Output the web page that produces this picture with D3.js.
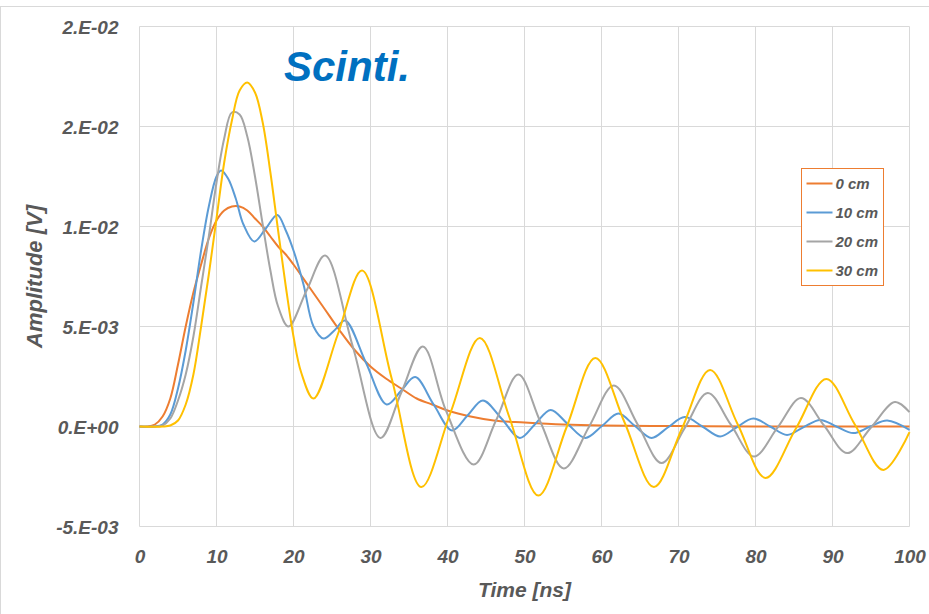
<!DOCTYPE html>
<html>
<head>
<meta charset="utf-8">
<script src="https://cdn.jsdelivr.net/npm/d3@7"></script>
<style>
  html, body { margin: 0; padding: 0; background: #fff; }
  svg { display: block; }
  text { font-family: "Liberation Sans", Arial, sans-serif; font-weight: bold; font-style: italic; }
</style>
</head>
<body>
<svg id="chart"></svg>
<script>
// [time ns, amplitude V]
var s0cm = [[0,0],[1,0],[2,0.0001],[3,0.0005],[4,0.0014],[5,0.0031],[6,0.0050],[7,0.0067],[8,0.0081],[9,0.0094],
  [10,0.0103],[11,0.0108],[12,0.0110],[13,0.0110],[14,0.0108],[15,0.0104],[16,0.0100],[17,0.0095],[18,0.0090],
  [19,0.0086],[20,0.0081],[22,0.0070],[24,0.0059],[26,0.0048],[28,0.0038],[30,0.0030],[32,0.0024],[34,0.0019],
  [36,0.0014],[38,0.0011],[40,0.0008],[43,0.0005],[46,0.0003],[50,0.0002],[55,0.0001],[60,0.00005],[70,0.00002],
  [80,0],[100,0]];
var s10cm = [[0,0],[2,0],[3,0.0001],[4,0.0006],[5,0.0019],[6,0.0038],[7,0.0062],[8,0.0088],[9,0.0110],[10,0.0125],
  [10.6,0.0128],[11.5,0.0124],[12.5,0.0114],[13.5,0.0101],[14.9,0.00925],[16.4,0.0099],[17.9,0.01058],[19,0.0098],
  [20,0.0088],[21.3,0.0071],[22.6,0.0050],[23.9,0.0044],[25.3,0.0048],[26.7,0.0053],[29.4,0.0032],[32.1,0.0011],
  [34,0.0018],[35.8,0.00247],[38.2,0.0011],[40.6,-0.0002],[42.6,0.00055],[44.6,0.0013],[47,0.0004],[49.4,-0.00057],
  [51.4,0.00013],[53.4,0.00083],[55.6,0.00013],[57.9,-0.00057],[60.1,0.00004],[62.2,0.00065],[64.3,0.00004],
  [66.5,-0.00057],[68.6,-0.00005],[70.8,0.00047],[73.1,0],[75.4,-0.0005],[77.5,-0.00005],[79.7,0.0004],[81.9,0],
  [84.1,-0.00042],[86.2,-0.00004],[88.4,0.00033],[90.5,0],[92.7,-0.00033],[94.9,0],[97.1,0.0003],[100,-0.00017]];
var s20cm = [[0,0],[2,0],[3,0.00005],[4,0.0004],[5,0.0013],[6,0.0026],[7,0.0045],[8,0.0070],[9,0.0095],[10,0.0122],
  [11,0.0144],[12,0.0157],[13,0.0156],[14,0.0145],[15,0.0125],[16,0.0101],[17,0.0078],[18,0.0060],[19.35,0.0050],
  [21.7,0.0068],[24.1,0.00855],[27.7,0.0040],[31.3,-0.00057],[34,0.0017],[36.8,0.0040],[39.8,0.0008],[43.4,-0.0019],
  [46.3,0.0003],[49.2,0.0026],[52.1,0.0002],[55.1,-0.0021],[58.4,0],[61.6,0.00205],[64.7,0.0001],[67.8,-0.00183],
  [70.8,-0.00008],[73.8,0.00168],[76.8,0.00009],[79.8,-0.0015],[82.9,-0.00003],[85.9,0.00143],[88.9,0.00005],
  [91.9,-0.00133],[95,-0.00005],[98.1,0.00122],[100,0.00072]];
var s30cm = [[0,0],[3,0],[4,0.00005],[5,0.0003],[6,0.0011],[7,0.0026],[8,0.0050],[9,0.0076],[10,0.0104],[11,0.0132],
  [12,0.0153],[13,0.0168],[14,0.0172],[15,0.0167],[16,0.0152],[17,0.0127],[18,0.0098],[19,0.0070],[20,0.0045],
  [21,0.0027],[22.6,0.0014],[25.75,0.0046],[28.9,0.0078],[32.75,0.0024],[36.6,-0.00303],[40.4,0.0007],[44.2,0.00443],
  [48,0.0005],[51.8,-0.00345],[55.5,0],[59.2,0.00343],[63,0.0002],[66.8,-0.00303],[70.45,-0.0001],[74.1,0.00283],
  [77.7,0.0001],[81.3,-0.00257],[85.25,-0.0001],[89.2,0.00238],[92.9,0.0001],[96.6,-0.00217],[100,-0.00028]];

var seriesNames = ["0 cm", "10 cm", "20 cm", "30 cm"];
var seriesData = [s0cm, s10cm, s20cm, s30cm];
var seriesColors = ["#ED7D31", "#5B9BD5", "#A5A5A5", "#FFC000"];

var xTicks = [0, 10, 20, 30, 40, 50, 60, 70, 80, 90, 100];
var yTicks = [-0.005, 0, 0.005, 0.01, 0.015, 0.02];
var yTickLabels = ["-5.E-03", "0.E+00", "5.E-03", "1.E-02", "2.E-02", "2.E-02"];

var width = 929, height = 614;
var margin = { top: 26.5, right: 19.5, bottom: 87.5, left: 139.5 };

var svg = d3.select('#chart')
    .attr('width', width)
    .attr('height', height);

svg.append('rect')
    .attr('x', 0.5).attr('y', 6.5)
    .attr('width', width + 20).attr('height', height + 20)
    .attr('fill', '#fff')
    .attr('stroke', '#d9d9d9');

var x = d3.scaleLinear().domain([0, 100]).range([margin.left, width - margin.right]);
var y = d3.scaleLinear().domain([-0.005, 0.02]).range([height - margin.bottom, margin.top]);

// gridlines
svg.append('g')
    .selectAll('line.v').data(xTicks)
    .enter().append('line')
    .attr('x1', d => x(d)).attr('x2', d => x(d))
    .attr('y1', y(0.02)).attr('y2', y(-0.005))
    .attr('stroke', '#d9d9d9');
svg.append('g')
    .selectAll('line.h').data(yTicks)
    .enter().append('line')
    .attr('x1', x(0)).attr('x2', x(100))
    .attr('y1', d => y(d)).attr('y2', d => y(d))
    .attr('stroke', '#d9d9d9');

// axes (labels only)
var xAxis = svg.append('g')
    .attr('transform', `translate(0,${y(-0.005)})`)
    .call(d3.axisBottom(x).tickValues(xTicks).tickSize(0).tickPadding(0));
xAxis.select('.domain').remove();
xAxis.selectAll('text')
    .attr('y', 36.5).attr('dy', 0)
    .attr('fill', '#595959')
    .style('font-size', '19px');

var yAxis = svg.append('g')
    .attr('transform', `translate(${x(0)},0)`)
    .call(d3.axisLeft(y).tickValues(yTicks).tickSize(0).tickPadding(0)
        .tickFormat((d, i) => yTickLabels[i]));
yAxis.select('.domain').remove();
yAxis.selectAll('text')
    .attr('x', -21).attr('dy', '0.35em')
    .attr('fill', '#595959')
    .style('font-size', '19px');

// series
var line = d3.line()
    .x(d => x(d[0]))
    .y(d => y(d[1]))
    .curve(d3.curveCatmullRom.alpha(0.5));

svg.append('g')
    .selectAll('path').data(seriesData)
    .enter().append('path')
    .attr('d', line)
    .attr('fill', 'none')
    .attr('stroke', (d, i) => seriesColors[i])
    .attr('stroke-width', 2);

// titles
svg.append('text')
    .attr('x', (x(0) + x(100)) / 2).attr('y', 597)
    .attr('text-anchor', 'middle')
    .attr('fill', '#595959')
    .style('font-size', '21px')
    .text('Time [ns]');

svg.append('text')
    .attr('transform', `translate(42,${(y(0.02) + y(-0.005)) / 2}) rotate(-90)`)
    .attr('text-anchor', 'middle')
    .attr('fill', '#595959')
    .style('font-size', '22px')
    .text('Amplitude [V]');

svg.append('text')
    .attr('x', 284).attr('y', 81)
    .attr('fill', '#0070C0')
    .style('font-size', '42px')
    .text('Scinti.');

// legend
var legend = svg.append('g').attr('transform', 'translate(801.5,168.5)');
legend.append('rect')
    .attr('width', 82).attr('height', 117)
    .attr('fill', '#fff')
    .attr('stroke', '#ED7D31');
var item = legend.selectAll('g.item').data(seriesNames)
    .enter().append('g')
    .attr('transform', (d, i) => `translate(0,${15 + i * 29})`);
item.append('line')
    .attr('x1', 5).attr('x2', 31)
    .attr('stroke', (d, i) => seriesColors[i])
    .attr('stroke-width', 2);
item.append('text')
    .attr('x', 34).attr('dy', '0.36em')
    .attr('fill', '#595959')
    .style('font-size', '15px')
    .text(d => d);
</script>
</body>
</html>
